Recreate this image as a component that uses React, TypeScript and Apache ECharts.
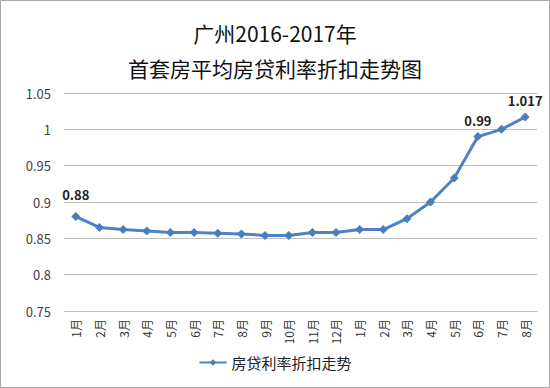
import React, { useEffect, useRef } from "react";
import * as echarts from "echarts";

const categories = ["1月","2月","3月","4月","5月","6月","7月","8月","9月","10月","11月","12月","1月","2月","3月","4月","5月","6月","7月","8月"];
const values = [0.88,0.865,0.862,0.86,0.858,0.858,0.857,0.856,0.854,0.854,0.858,0.858,0.862,0.862,0.877,0.9,0.933,0.99,1.0,1.017];
const labeledIndices = [0, 17, 19];
const yTicks = { min: 0.75, max: 1.05, interval: 0.05 };
const titleLines = ["广州2016-2017年", "首套房平均房贷利率折扣走势图"];
const seriesName = "房贷利率折扣走势";

const FONT = "'Noto Sans CJK SC', 'Noto Sans', sans-serif";

export default function App() {
  const ref = useRef<HTMLDivElement>(null);
  useEffect(() => {
    if (!ref.current) return;
    const chart = echarts.init(ref.current, undefined, { renderer: "svg" });
    const data = values.map((v, i) => {
      if (!labeledIndices.includes(i)) return v;
      return {
        value: v,
        label: {
          show: true,
          position: "top",
          distance: i === 0 ? 11 : 5,
          fontWeight: "bold",
          fontSize: 13,
          color: "#222",
          fontFamily: FONT,
          formatter: String(v === 1 ? "1" : v),
        },
      };
    });
    chart.setOption({
      animation: false,
      backgroundColor: "#fff",
      textStyle: { fontFamily: FONT },
      title: [
        { text: titleLines[0], left: "center", top: 17, textStyle: { fontSize: 21, fontWeight: "normal", color: "#111", fontFamily: FONT } },
        { text: titleLines[1], left: "center", top: 52, textStyle: { fontSize: 21, fontWeight: "normal", color: "#111", fontFamily: FONT } },
      ],
      graphic: [
        { type: "rect", shape: { x: 0.5, y: 0.5, width: 549, height: 387 }, style: { fill: "none", stroke: "#a6a6a6", lineWidth: 1 }, silent: true },
      ],
      legend: {
        bottom: 13,
        left: "center",
        itemWidth: 27,
        itemHeight: 8,
        itemGap: 4,
        data: [seriesName],
        textStyle: { fontSize: 15, color: "#222", fontFamily: FONT },
      },
      grid: { left: 64, right: 13, top: 93, bottom: 77, containLabel: false },
      xAxis: {
        type: "category",
        data: categories,
        boundaryGap: true,
        axisLine: { lineStyle: { color: "#bfbfbf", width: 1 } },
        axisTick: { show: false },
        axisLabel: { rotate: 90, fontSize: 12, color: "#333", margin: 8, interval: 0, fontFamily: FONT },
      },
      yAxis: {
        type: "value",
        min: yTicks.min,
        max: yTicks.max,
        interval: yTicks.interval,
        axisLine: { show: false },
        axisTick: { show: false },
        splitLine: { lineStyle: { color: "#bfbfbf", width: 1 } },
        axisLabel: {
          fontSize: 13,
          color: "#444",
          margin: 13,
          fontFamily: FONT,
          formatter: (v: number) => String(parseFloat(v.toFixed(2))),
        },
      },
      series: [
        {
          name: seriesName,
          type: "line",
          data,
          symbol: "diamond",
          symbolSize: 9,
          lineStyle: { color: "#4f81c7", width: 3 },
          itemStyle: { color: "#4a7ebb" },
        },
      ],
    });
    return () => chart.dispose();
  }, []);
  return <div ref={ref} style={{ position: "fixed", left: 0, top: 0, width: 550, height: 388 }} />;
}
